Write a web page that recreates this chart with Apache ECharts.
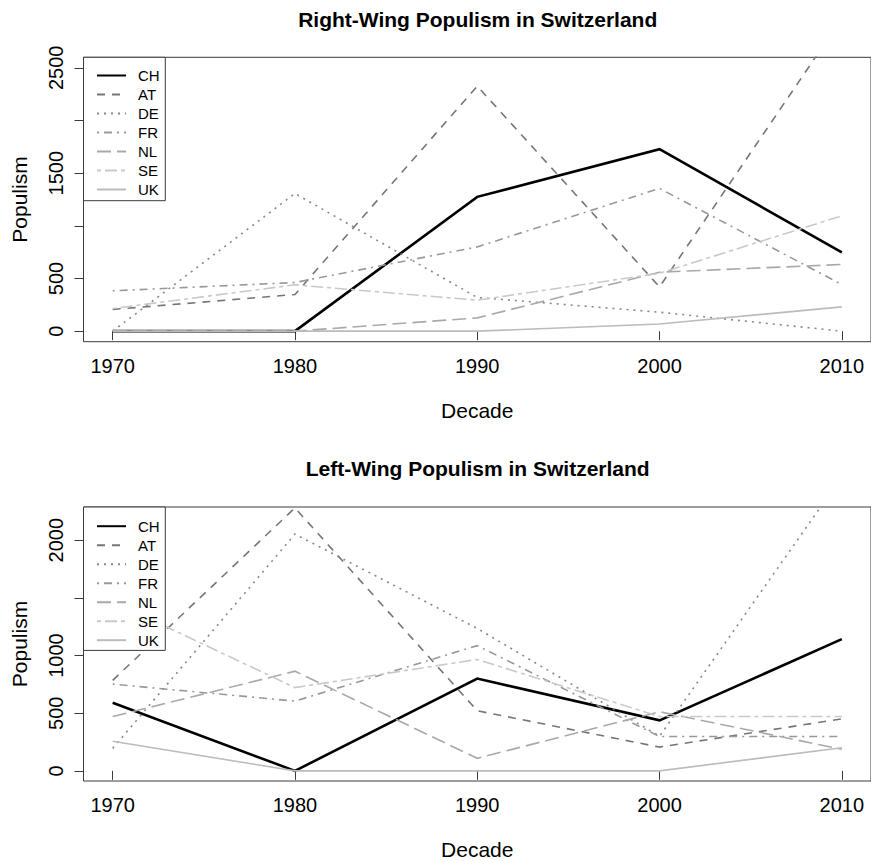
<!DOCTYPE html>
<html>
<head>
<meta charset="utf-8">
<script src="https://cdn.jsdelivr.net/npm/echarts@6/dist/echarts.min.js"></script>
<style>
  html, body { margin: 0; padding: 0; background: #fff; }
  #chart { width: 871px; height: 861px; }
</style>
</head>
<body>
<div id="chart"></div>
<script>
// Decades on the x axis and the countries shown in each panel
const decades = [1970, 1980, 1990, 2000, 2010];
const countries = ['CH', 'AT', 'DE', 'FR', 'NL', 'SE', 'UK'];

// Right-wing populism per decade
const rightCH = [0, 0, 1275, 1728, 747];
const rightAT = [206, 348, 2326, 420, 2970];
const rightDE = [0, 1307, 320, 180, 0];
const rightFR = [383, 462, 800, 1355, 443];
const rightNL = [0, 0, 126, 560, 633];
const rightSE = [215, 440, 294, 550, 1095];
const rightUK = [0, 0, 0, 68, 231];

// Left-wing populism per decade
const leftCH = [591, 0, 800, 438, 1142];
const leftAT = [785, 2280, 521, 206, 451];
const leftDE = [195, 2053, 1235, 300, 2550];
const leftFR = [752, 605, 1086, 298, 298];
const leftNL = [471, 864, 109, 513, 187];
const leftSE = [1470, 722, 966, 471, 471];
const leftUK = [256, 0, 0, 0, 200];

// Tick positions and the labels that are printed
const xTicks = [1970, 1980, 1990, 2000, 2010];
const rightTicks = [0, 500, 1000, 1500, 2000, 2500];
const rightLabels = [0, 500, 1500, 2500];
const leftTicks = [0, 500, 1000, 1500, 2000];
const leftLabels = [0, 500, 1000, 2000];

const rightData = [rightCH, rightAT, rightDE, rightFR, rightNL, rightSE, rightUK];
const leftData = [leftCH, leftAT, leftDE, leftFR, leftNL, leftSE, leftUK];

const FONT = '"Liberation Sans", Arial, Helvetica, sans-serif';
const FRAME = '#3a3a3a';

// Line look for each country (grey ramp with distinct dash patterns)
const styles = {
  CH: { color: '#000000', width: 2.6, type: 'solid' },
  AT: { color: '#767676', width: 1.6, type: [8, 7] },
  DE: { color: '#888888', width: 1.6, type: [2, 5] },
  FR: { color: '#999999', width: 1.6, type: [2, 5, 8, 5] },
  NL: { color: '#a9a9a9', width: 1.6, type: [14, 6] },
  SE: { color: '#c9c9c9', width: 1.6, type: [4, 4, 12, 4] },
  UK: { color: '#bcbcbc', width: 1.6, type: 'solid' }
};

// Plot-area geometry (x range padded 4% beyond the decades)
const PLOT_LEFT = 83.5;
const PLOT_W = 788.4;
const PLOT_H = 284.4;
const TOPS = [57.3, 507];
const CENTER_X = PLOT_LEFT + PLOT_W / 2;

const plain = v => String(v);

function makeSeries(dataSets, idx) {
  return countries.map((c, i) => ({
    type: 'line',
    name: c,
    xAxisIndex: idx,
    yAxisIndex: idx,
    data: decades.map((d, k) => [d, dataSets[i][k]]),
    symbol: 'none',
    showSymbol: false,
    clip: true,
    silent: true,
    animation: false,
    z: 2,
    lineStyle: { color: styles[c].color, width: styles[c].width, type: styles[c].type, cap: 'butt', join: 'miter' },
    itemStyle: { color: styles[c].color }
  }));
}

function makeX(idx) {
  return {
    type: 'value', gridIndex: idx,
    min: 1968.4, max: 2011.6,
    name: 'Decade', nameLocation: 'middle', nameGap: 58,
    nameTextStyle: { fontSize: 21, fontFamily: FONT, color: '#000' },
    axisLine: { show: false },
    splitLine: { show: false },
    axisTick: { show: true, inside: false, length: 9, customValues: xTicks, lineStyle: { color: FRAME, width: 1 } },
    axisLabel: { show: true, customValues: xTicks, formatter: plain, margin: 14, fontSize: 20, fontFamily: FONT, color: '#000' }
  };
}

function makeY(idx, min, max, ticks, labels) {
  return {
    type: 'value', gridIndex: idx,
    min: min, max: max,
    name: 'Populism', nameLocation: 'middle', nameGap: 54, nameRotate: 90,
    nameTextStyle: { fontSize: 21, fontFamily: FONT, color: '#000' },
    axisLine: { show: false },
    splitLine: { show: false },
    axisTick: { show: true, inside: false, length: 9, customValues: ticks, lineStyle: { color: FRAME, width: 1 } },
    axisLabel: { show: true, customValues: labels, formatter: plain, rotate: 90, margin: 18, fontSize: 20, fontFamily: FONT, color: '#000' }
  };
}

function makeLegend(top) {
  return {
    orient: 'vertical',
    left: 96, top: top,
    padding: 0,
    itemWidth: 29, itemHeight: 14, itemGap: 4,
    selectedMode: false,
    z: 5,
    data: countries,
    itemStyle: { opacity: 0, borderWidth: 0 },
    lineStyle: { opacity: 1 },
    textStyle: { fontSize: 15, fontFamily: FONT, color: '#000', padding: [0, 0, 0, 7] }
  };
}

function legendBox(top) {
  return {
    type: 'rect', z: 4,
    shape: { x: PLOT_LEFT, y: top, width: 81.8, height: 143.4 },
    style: { fill: '#ffffff', stroke: FRAME, lineWidth: 1 }
  };
}

const chart = echarts.init(document.getElementById('chart'), null, { renderer: 'svg', width: 871, height: 861 });

chart.setOption({
  backgroundColor: '#ffffff',
  animation: false,
  title: [
    { text: 'Right-Wing Populism in Switzerland', left: CENTER_X, top: 9, padding: 0, textAlign: 'center',
      textStyle: { fontSize: 21, fontWeight: 'bold', fontFamily: FONT, color: '#000' } },
    { text: 'Left-Wing Populism in Switzerland', left: CENTER_X, top: 458, padding: 0, textAlign: 'center',
      textStyle: { fontSize: 21, fontWeight: 'bold', fontFamily: FONT, color: '#000' } }
  ],
  grid: TOPS.map(t => ({
    left: PLOT_LEFT, top: t, width: PLOT_W, height: PLOT_H,
    show: true, borderColor: FRAME, borderWidth: 1, backgroundColor: 'transparent', containLabel: false
  })),
  xAxis: [makeX(0), makeX(1)],
  yAxis: [
    makeY(0, -100, 2600, rightTicks, rightLabels),
    makeY(1, -88, 2288, leftTicks, leftLabels)
  ],
  legend: [makeLegend(68), makeLegend(518.7)],
  graphic: [legendBox(TOPS[0]), legendBox(TOPS[1])],
  series: makeSeries(rightData, 0).concat(makeSeries(leftData, 1))
});
</script>
</body>
</html>
